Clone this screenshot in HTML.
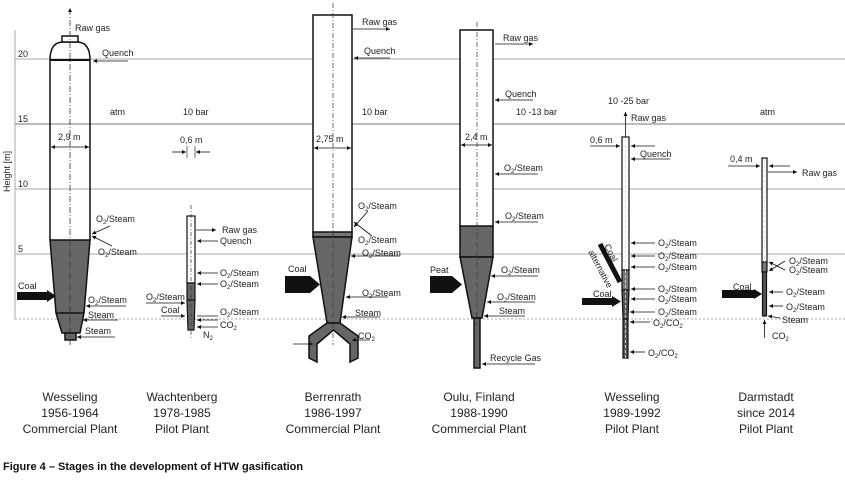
<!DOCTYPE html>
<html><head><meta charset="utf-8"><style>
body{margin:0;background:#fff}
svg{display:block;font-family:"Liberation Sans",Arial,sans-serif}
text{font-size:9px;fill:#222}
.c text{font-size:12px}
</style></head><body>
<svg width="845" height="483" viewBox="0 0 845 483" xmlns="http://www.w3.org/2000/svg">
<defs>
<marker id="a" markerWidth="6" markerHeight="6" refX="5" refY="3" orient="auto"><path d="M0,0.5 L5,3 L0,5.5z" fill="#111"/></marker>
</defs>
<!-- grid -->
<g stroke="#aaa" stroke-width="1">
<line x1="15" y1="59" x2="845" y2="59"/>
<line x1="15" y1="124" x2="845" y2="124" stroke="#777"/>
<line x1="15" y1="189" x2="845" y2="189"/>
<line x1="15" y1="254" x2="845" y2="254"/>
<line x1="15" y1="319" x2="845" y2="319" stroke-dasharray="2,2"/>
<line x1="15" y1="30" x2="15" y2="319"/>
</g>
<text x="18" y="57">20</text><text x="18" y="122">15</text><text x="18" y="187">10</text><text x="18" y="252">5</text>
<text transform="translate(10,192) rotate(-90)">Height [m]</text>

<!-- Reactor 1 -->
<g stroke="#111" stroke-width="1.5" fill="none">
<path d="M50,240 L50,60 Q50,43 62,42 L78,42 Q90,43 90,60 L90,240"/>
<rect x="62" y="36" width="16" height="6" fill="#fff"/>
<path d="M50,240 L90,240 L84,313 L80,333 L62,333 L56,313 Z" fill="#666"/>
<line x1="56" y1="313" x2="84" y2="313"/>
<rect x="65" y="333" width="11" height="7" fill="#666"/>
<line x1="50" y1="60" x2="90" y2="60" stroke-width="2"/>
</g>
<line x1="70" y1="345" x2="70" y2="8" stroke="#333" stroke-width="0.8" stroke-dasharray="6,2,1,2" marker-end="url(#a)"/>
<rect x="17" y="292" width="30" height="8" fill="#111"/><path d="M47,290 L56,296 L47,302z" fill="#111"/>
<text x="18" y="289">Coal</text>
<text x="75" y="31">Raw gas</text>
<text x="102" y="56">Quench</text><line x1="128" y1="61" x2="93" y2="61" stroke="#111" stroke-width=".8" marker-end="url(#a)"/>
<text x="110" y="115">atm</text><text x="183" y="115">10 bar</text>
<text x="58" y="140">2,9 m</text><line x1="70" y1="147" x2="51" y2="147" stroke="#111" stroke-width=".8" marker-end="url(#a)"/><line x1="70" y1="147" x2="89" y2="147" stroke="#111" stroke-width=".8" marker-end="url(#a)"/>
<text x="96" y="222">O<tspan font-size="6" dy="2">2</tspan><tspan dy="-2">/Steam</tspan></text>
<text x="98" y="255">O<tspan font-size="6" dy="2">2</tspan><tspan dy="-2">/Steam</tspan></text>
<line x1="110" y1="226" x2="92" y2="234" stroke="#111" stroke-width=".8" marker-end="url(#a)"/>
<line x1="112" y1="246" x2="92" y2="236" stroke="#111" stroke-width=".8" marker-end="url(#a)"/>
<text x="88" y="303">O<tspan font-size="6" dy="2">2</tspan><tspan dy="-2">/Steam</tspan></text><line x1="126" y1="306" x2="86" y2="306" stroke="#111" stroke-width=".8" marker-end="url(#a)"/>
<text x="88" y="318">Steam</text><line x1="118" y1="320" x2="83" y2="320" stroke="#111" stroke-width=".8" marker-end="url(#a)"/>
<text x="85" y="334">Steam</text><line x1="115" y1="337" x2="77" y2="337" stroke="#111" stroke-width=".8" marker-end="url(#a)"/>

<!-- Reactor 2 -->
<g stroke="#111" stroke-width="1.2">
<rect x="187" y="216" width="8" height="67" fill="#fff"/>
<path d="M187,283 L195,283 L195,300 L194,330 L188,330 L187,300Z" fill="#666"/>
<line x1="187" y1="300" x2="195" y2="300"/>
</g>
<line x1="191" y1="205" x2="191" y2="340" stroke="#333" stroke-width=".7" stroke-dasharray="4,2,1,2"/>
<text x="180" y="143">0,6 m</text>
<line x1="172" y1="152" x2="186" y2="152" stroke="#111" stroke-width=".8" marker-end="url(#a)"/><line x1="210" y1="152" x2="196" y2="152" stroke="#111" stroke-width=".8" marker-end="url(#a)"/>
<line x1="187" y1="146" x2="187" y2="158" stroke="#111" stroke-width=".6"/><line x1="195" y1="146" x2="195" y2="158" stroke="#111" stroke-width=".6"/>
<g stroke="#111" stroke-width=".8">
<line x1="196" y1="230" x2="216" y2="230" marker-end="url(#a)"/>
<line x1="218" y1="241" x2="197" y2="241" marker-end="url(#a)"/>
<line x1="218" y1="273" x2="197" y2="273" marker-end="url(#a)"/>
<line x1="218" y1="284" x2="197" y2="284" marker-end="url(#a)"/>
<line x1="146" y1="303" x2="185" y2="303" marker-end="url(#a)"/>
<line x1="161" y1="316" x2="185" y2="316" marker-end="url(#a)"/>
<line x1="218" y1="316" x2="197" y2="316"/><line x1="218" y1="320" x2="197" y2="320" marker-end="url(#a)"/>
<line x1="218" y1="327" x2="197" y2="327" marker-end="url(#a)"/>
</g>
<text x="222" y="233">Raw gas</text><text x="220" y="244">Quench</text>
<text x="220" y="276">O<tspan font-size="6" dy="2">2</tspan><tspan dy="-2">/Steam</tspan></text>
<text x="220" y="287">O<tspan font-size="6" dy="2">2</tspan><tspan dy="-2">/Steam</tspan></text>
<text x="146" y="300">O<tspan font-size="6" dy="2">2</tspan><tspan dy="-2">/Steam</tspan></text>
<text x="161" y="313">Coal</text>
<text x="220" y="315">O<tspan font-size="6" dy="2">2</tspan><tspan dy="-2">/Steam</tspan></text>
<text x="220" y="328">CO<tspan font-size="6" dy="2">2</tspan></text>
<text x="203" y="338">N<tspan font-size="6" dy="2">2</tspan></text>

<!-- Reactor 3 -->
<g stroke="#111" stroke-width="1.5">
<rect x="313" y="15" width="39" height="218" fill="#fff"/>
<rect x="313" y="232" width="39" height="5" fill="#777"/>
<path d="M313,237 L352,237 L340,323 L327,323Z" fill="#666"/>
<path d="M327,323 L340,323 L358,336 L358,358 L350,362 L350,344 L333.5,330 L317,344 L317,362 L309,358 L309,336Z" fill="#666"/>
</g>
<line x1="333" y1="3" x2="333" y2="345" stroke="#333" stroke-width=".7" stroke-dasharray="5,2,1,2"/>
<path d="M285,276 L310,276 L320,284.5 L310,293 L285,293Z" fill="#111"/><text x="288" y="272">Coal</text>
<g stroke="#111" stroke-width=".8">
<line x1="353" y1="29" x2="390" y2="29" marker-end="url(#a)"/>
<line x1="390" y1="58" x2="354" y2="58" marker-end="url(#a)"/>
<line x1="333" y1="148" x2="314" y2="148" marker-end="url(#a)"/><line x1="333" y1="148" x2="351" y2="148" marker-end="url(#a)"/>
<line x1="368" y1="211" x2="354" y2="227" marker-end="url(#a)"/>
<line x1="372" y1="236" x2="354" y2="222" marker-end="url(#a)"/>
<line x1="400" y1="256" x2="351" y2="256" marker-end="url(#a)"/>
<line x1="388" y1="297" x2="346" y2="297" marker-end="url(#a)"/>
<line x1="380" y1="317" x2="342" y2="317" marker-end="url(#a)"/>
<line x1="370" y1="340" x2="352" y2="340" marker-end="url(#a)"/>
<line x1="293" y1="344" x2="313" y2="344" marker-end="url(#a)"/>
</g>
<text x="362" y="25">Raw gas</text><text x="364" y="54">Quench</text><text x="362" y="115">10 bar</text>
<text x="316" y="142">2,75 m</text>
<text x="358" y="209">O<tspan font-size="6" dy="2">2</tspan><tspan dy="-2">/Steam</tspan></text>
<text x="358" y="243">O<tspan font-size="6" dy="2">2</tspan><tspan dy="-2">/Steam</tspan></text>
<text x="362" y="256">O<tspan font-size="6" dy="2">2</tspan><tspan dy="-2">/Steam</tspan></text>
<text x="362" y="296">O<tspan font-size="6" dy="2">2</tspan><tspan dy="-2">/Steam</tspan></text>
<text x="355" y="316">Steam</text>
<text x="358" y="339">CO<tspan font-size="6" dy="2">2</tspan></text>

<!-- Reactor 4 -->
<g stroke="#111" stroke-width="1.5">
<rect x="460" y="30" width="33" height="197" fill="#fff"/>
<rect x="460" y="226" width="33" height="31" fill="#666"/>
<path d="M460,257 L493,257 L482,318 L472,318Z" fill="#666"/>
<rect x="474" y="318" width="6" height="50" fill="#666"/>
</g>
<line x1="477" y1="22" x2="477" y2="330" stroke="#333" stroke-width=".7" stroke-dasharray="5,2,1,2"/>
<path d="M430,276 L452,276 L462,284.5 L452,293 L430,293Z" fill="#111"/><text x="430" y="273">Peat</text>
<g stroke="#111" stroke-width=".8">
<line x1="495" y1="44" x2="533" y2="44" marker-end="url(#a)"/>
<line x1="533" y1="100" x2="495" y2="100" marker-end="url(#a)"/>
<line x1="477" y1="145" x2="461" y2="145" marker-end="url(#a)"/><line x1="477" y1="145" x2="492" y2="145" marker-end="url(#a)"/>
<line x1="538" y1="174" x2="495" y2="174" marker-end="url(#a)"/>
<line x1="538" y1="222" x2="495" y2="222" marker-end="url(#a)"/>
<line x1="538" y1="276" x2="491" y2="276" marker-end="url(#a)"/>
<line x1="535" y1="302" x2="487" y2="302" marker-end="url(#a)"/>
<line x1="525" y1="316" x2="484" y2="316" marker-end="url(#a)"/>
<line x1="535" y1="364" x2="482" y2="364" marker-end="url(#a)"/>
</g>
<text x="503" y="41">Raw gas</text><text x="505" y="97">Quench</text><text x="516" y="115">10 -13 bar</text>
<text x="465" y="140">2,4 m</text>
<text x="504" y="171">O<tspan font-size="6" dy="2">2</tspan><tspan dy="-2">/Steam</tspan></text>
<text x="505" y="219">O<tspan font-size="6" dy="2">2</tspan><tspan dy="-2">/Steam</tspan></text>
<text x="501" y="273">O<tspan font-size="6" dy="2">2</tspan><tspan dy="-2">/Steam</tspan></text>
<text x="497" y="300">O<tspan font-size="6" dy="2">2</tspan><tspan dy="-2">/Steam</tspan></text>
<text x="499" y="314">Steam</text>
<text x="490" y="361">Recycle Gas</text>

<!-- Reactor 5 -->
<g stroke="#111" stroke-width="1.2">
<rect x="622" y="137" width="7" height="133" fill="#fff"/>
<rect x="622" y="270" width="7" height="20" fill="#777"/>
<path d="M622,290 L629,290 L628,319 L623,319Z" fill="#555"/>
<rect x="623" y="319" width="5" height="39" fill="#555"/>
</g>
<line x1="625.5" y1="140" x2="625.5" y2="360" stroke="#ddd" stroke-width=".8" stroke-dasharray="3,2"/>
<line x1="625.5" y1="137" x2="625.5" y2="112" stroke="#111" stroke-width=".8" marker-end="url(#a)"/>
<line x1="600" y1="244" x2="620" y2="282" stroke="#111" stroke-width="5"/>
<text transform="translate(604,246) rotate(62)">Coal</text>
<text transform="translate(588,252) rotate(62)">alternative</text>
<rect x="582" y="298" width="30" height="7" fill="#111"/><path d="M612,296 L621,301.5 L612,307z" fill="#111"/><text x="593" y="297">Coal</text>
<g stroke="#111" stroke-width=".8">
<line x1="590" y1="146" x2="620" y2="146" marker-end="url(#a)"/>
<line x1="655" y1="146" x2="631" y2="146" marker-end="url(#a)"/>
<line x1="670" y1="159" x2="631" y2="159" marker-end="url(#a)"/>
<line x1="655" y1="243" x2="631" y2="243" marker-end="url(#a)"/>
<line x1="655" y1="256" x2="631" y2="256" marker-end="url(#a)"/>
<line x1="655" y1="267" x2="631" y2="267" marker-end="url(#a)"/>
<line x1="655" y1="289" x2="631" y2="289" marker-end="url(#a)"/>
<line x1="655" y1="299" x2="631" y2="299" marker-end="url(#a)"/>
<line x1="655" y1="312" x2="630" y2="312" marker-end="url(#a)"/>
<line x1="650" y1="322" x2="630" y2="322" marker-end="url(#a)"/>
<line x1="645" y1="352" x2="630" y2="352" marker-end="url(#a)"/>
</g>
<text x="608" y="104">10 -25 bar</text><text x="631" y="121">Raw gas</text>
<text x="590" y="143">0,6 m</text><text x="640" y="157">Quench</text>
<text x="658" y="246">O<tspan font-size="6" dy="2">2</tspan><tspan dy="-2">/Steam</tspan></text>
<text x="658" y="259">O<tspan font-size="6" dy="2">2</tspan><tspan dy="-2">/Steam</tspan></text>
<text x="658" y="270">O<tspan font-size="6" dy="2">2</tspan><tspan dy="-2">/Steam</tspan></text>
<text x="658" y="292">O<tspan font-size="6" dy="2">2</tspan><tspan dy="-2">/Steam</tspan></text>
<text x="658" y="302">O<tspan font-size="6" dy="2">2</tspan><tspan dy="-2">/Steam</tspan></text>
<text x="658" y="315">O<tspan font-size="6" dy="2">2</tspan><tspan dy="-2">/Steam</tspan></text>
<text x="653" y="326">O<tspan font-size="6" dy="2">2</tspan><tspan dy="-2">/CO</tspan><tspan font-size="6" dy="2">2</tspan></text>
<text x="648" y="356">O<tspan font-size="6" dy="2">2</tspan><tspan dy="-2">/CO</tspan><tspan font-size="6" dy="2">2</tspan></text>

<!-- Reactor 6 -->
<g stroke="#111" stroke-width="1.2">
<rect x="762" y="158" width="5" height="104" fill="#fff"/>
<rect x="762" y="262" width="5" height="10" fill="#777"/>
<rect x="762.5" y="272" width="4" height="44" fill="#555"/>
</g>
<line x1="764.5" y1="160" x2="764.5" y2="262" stroke="#ddd" stroke-width=".8" stroke-dasharray="3,2"/>
<rect x="722" y="290" width="32" height="8" fill="#111"/><path d="M754,289 L762,294 L754,299z" fill="#111"/><text x="733" y="290">Coal</text>
<g stroke="#111" stroke-width=".8">
<line x1="728" y1="166" x2="760" y2="166" marker-end="url(#a)"/>
<line x1="790" y1="166" x2="769" y2="166" marker-end="url(#a)"/>
<line x1="768" y1="172" x2="797" y2="172" marker-end="url(#a)"/>
<line x1="785" y1="261" x2="769" y2="271" marker-end="url(#a)"/>
<line x1="785" y1="270" x2="769" y2="262" marker-end="url(#a)"/>
<line x1="783" y1="292" x2="769" y2="292" marker-end="url(#a)"/>
<line x1="783" y1="306" x2="769" y2="306" marker-end="url(#a)"/>
<line x1="780" y1="318" x2="768" y2="316" marker-end="url(#a)"/>
<line x1="764.5" y1="338" x2="764.5" y2="320" marker-end="url(#a)"/>
</g>
<text x="760" y="115">atm</text><text x="730" y="162">0,4 m</text><text x="802" y="176">Raw gas</text>
<text x="789" y="264">O<tspan font-size="6" dy="2">2</tspan><tspan dy="-2">/Steam</tspan></text>
<text x="789" y="273">O<tspan font-size="6" dy="2">2</tspan><tspan dy="-2">/Steam</tspan></text>
<text x="786" y="295">O<tspan font-size="6" dy="2">2</tspan><tspan dy="-2">/Steam</tspan></text>
<text x="786" y="310">O<tspan font-size="6" dy="2">2</tspan><tspan dy="-2">/Steam</tspan></text>
<text x="782" y="323">Steam</text>
<text x="772" y="339">CO<tspan font-size="6" dy="2">2</tspan></text>

<!-- captions -->
<g class="c" text-anchor="middle">
<text x="70" y="401">Wesseling</text><text x="70" y="417">1956-1964</text><text x="70" y="433">Commercial Plant</text>
<text x="182" y="401">Wachtenberg</text><text x="182" y="417">1978-1985</text><text x="182" y="433">Pilot Plant</text>
<text x="333" y="401">Berrenrath</text><text x="333" y="417">1986-1997</text><text x="333" y="433">Commercial Plant</text>
<text x="479" y="401">Oulu, Finland</text><text x="479" y="417">1988-1990</text><text x="479" y="433">Commercial Plant</text>
<text x="632" y="401">Wesseling</text><text x="632" y="417">1989-1992</text><text x="632" y="433">Pilot Plant</text>
<text x="766" y="401">Darmstadt</text><text x="766" y="417">since 2014</text><text x="766" y="433">Pilot Plant</text>
</g>
<text x="3" y="470" style="font-size:11px;font-weight:bold;fill:#111">Figure 4 – Stages in the development of HTW gasification</text>
</svg>
</body></html>
